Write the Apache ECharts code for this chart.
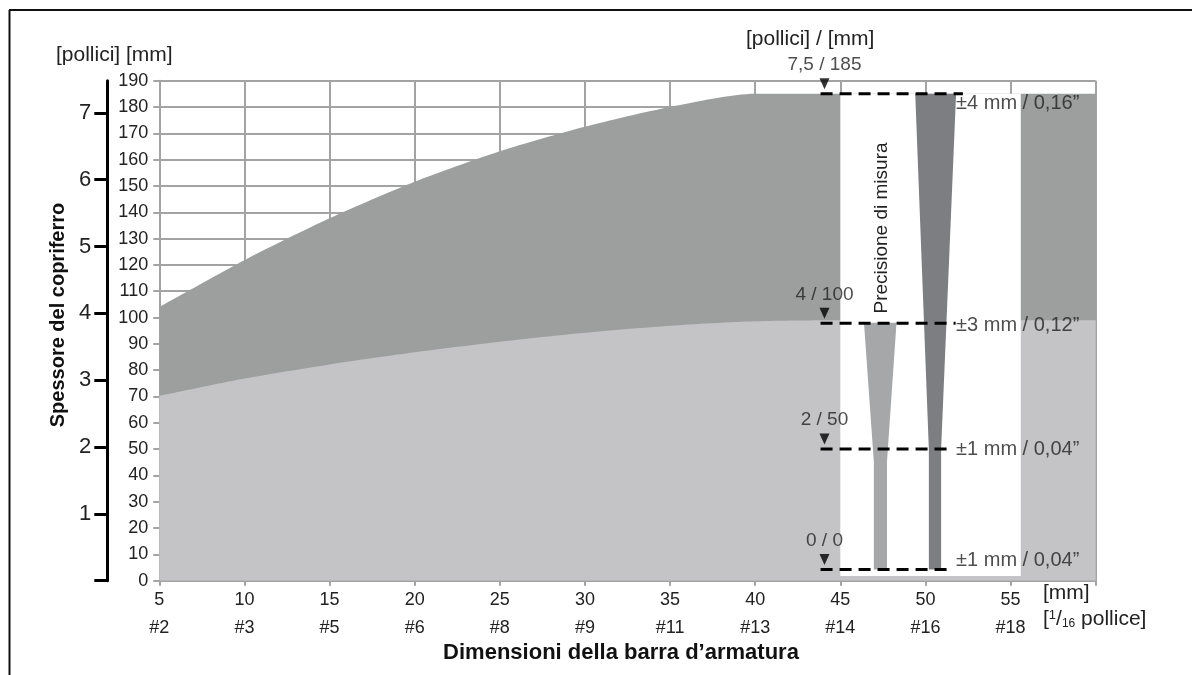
<!DOCTYPE html>
<html>
<head>
<meta charset="utf-8">
<script src="https://cdn.jsdelivr.net/npm/echarts@6/dist/echarts.min.js"></script>
<style>
  html, body { margin: 0; padding: 0; background: #fff; }
  #chart { width: 1192px; height: 675px; }
</style>
</head>
<body>
<div id="chart"></div>
<script>
// dati
var xTicks = [5, 10, 15, 20, 25, 30, 35, 40, 45, 50, 55];
var barSizes = ['#2', '#3', '#5', '#6', '#8', '#9', '#11', '#13', '#14', '#16', '#18'];
var inchTicks = [0, 1, 2, 3, 4, 5, 6, 7];
var inchLabels = [1, 2, 3, 4, 5, 6, 7];

// Campo Ampio (limite superiore)
var ampio = [[5, 104], [10, 121.8], [15, 137.7], [20, 151.6], [25, 163.2], [30, 172.5], [35, 180], [40, 185], [45, 185], [60, 185]];
// Campo Standard (limite superiore)
var standard = [[5, 70.2], [10, 76.8], [15, 82.2], [20, 86.8], [25, 90.8], [30, 94.2], [35, 96.9], [40, 98.6], [45, 99], [60, 99]];

// banda bianca "Precisione di misura"
var bandX = [45, 55.6];
var bandY = [1.8, 185];

// cunei di precisione
var wedgeStd = [[46.39, 98], [48.3, 98], [47.74, 45], [47.74, 4.3], [46.97, 4.3], [46.97, 45]];
var wedgeAmp = [[49.4, 185], [51.8, 185], [50.92, 50], [50.92, 4.3], [50.2, 4.3], [50.2, 50]];

// linee tratteggiate
var dashLevels = [185, 97.8, 50, 4.3];
var dashStart = 43.84;
var dashEnd = [52.2, 51.77, 51.3, 51.3];
var markX = 44.07;
var markLabels = ['7,5 / 185', '4 / 100', '2 / 50', '0 / 0'];
var precX = 51.8;
var precLabels = ['±4 mm / 0,16”', '±3 mm / 0,12”', '±1 mm / 0,04”', '±1 mm / 0,04”'];

var FONT = '"Liberation Sans", Arial, sans-serif';
var gridColor = '#a3a3a3';
var precOffset = [10, 2, 0, -9];

var series = [];

series.push({
  type: 'line', data: ampio, smooth: 0.25, symbol: 'none', z: 2,
  lineStyle: { width: 0 }, areaStyle: { color: '#9d9e9e', opacity: 1 }
});
series.push({
  type: 'line', data: standard, smooth: 0.25, symbol: 'none', z: 3,
  lineStyle: { width: 0 }, areaStyle: { color: '#c4c4c6', opacity: 1 }
});

// banda bianca + cunei
var shapes = [
  { pts: [[bandX[0], bandY[0]], [bandX[1], bandY[0]], [bandX[1], bandY[1]], [bandX[0], bandY[1]]], color: '#ffffff' },
  { pts: wedgeStd, color: '#a6a7a9' },
  { pts: wedgeAmp, color: '#7d7e81' }
];
series.push({
  type: 'custom', z: 4, silent: true,
  data: shapes.map(function (s, i) { return [i]; }),
  renderItem: function (params, api) {
    var s = shapes[params.dataIndex];
    return {
      type: 'polygon',
      shape: { points: s.pts.map(function (p) { return api.coord(p); }) },
      style: { fill: s.color }
    };
  }
});

dashLevels.forEach(function (lv, i) {
  series.push({
    type: 'line', z: 6, symbol: 'none', silent: true,
    data: [[dashStart, lv], [dashEnd[i], lv]],
    lineStyle: { color: '#000', width: 3, type: [12, 7] }
  });
});

series.push({
  type: 'scatter', z: 7, silent: true,
  symbol: 'triangle', symbolRotate: 180, symbolSize: [10, 11], symbolOffset: [0, -10],
  itemStyle: { color: '#000' },
  data: dashLevels.map(function (lv) { return [markX, lv]; }),
  label: {
    show: true, position: 'top', distance: 4,
    fontFamily: FONT, fontSize: 19, color: '#222',
    formatter: function (p) { return markLabels[p.dataIndex]; }
  }
});

series.push({
  type: 'scatter', z: 7, silent: true, symbolSize: 0,
  data: dashLevels.map(function (lv, i) {
    return { value: [precX, lv], label: { offset: [0, precOffset[i]] } };
  }),
  label: {
    show: true, position: 'right', distance: 0,
    fontFamily: FONT, fontSize: 20, color: '#222',
    formatter: function (p) { return precLabels[p.dataIndex]; }
  }
});

var option = {
  backgroundColor: '#ffffff',
  animation: false,
  grid: { left: 159.3, right: 96.3, top: 80.7, bottom: 94.3 },
  xAxis: {
    type: 'value', min: 5, max: 60, interval: 5,
    axisLine: { lineStyle: { color: gridColor, width: 2 } },
    axisTick: { show: true, length: 5, lineStyle: { color: gridColor, width: 2 } },
    splitLine: { show: true, lineStyle: { color: gridColor, width: 2 } },
    axisLabel: {
      margin: 5,
      formatter: function (v) {
        var i = xTicks.indexOf(v);
        if (i < 0) return '';
        return '{a|' + v + '}\n{b|' + barSizes[i] + '}';
      },
      rich: {
        a: { fontFamily: FONT, fontSize: 18, color: '#222', lineHeight: 28 },
        b: { fontFamily: FONT, fontSize: 18, color: '#222', lineHeight: 28 }
      }
    }
  },
  yAxis: [
    {
      type: 'value', min: 0, max: 190, interval: 10,
      axisLine: { show: true, lineStyle: { color: gridColor, width: 2 } },
      axisTick: { show: true, length: 6, lineStyle: { color: gridColor, width: 2 } },
      splitLine: { show: true, lineStyle: { color: gridColor, width: 2 } },
      axisLabel: { fontFamily: FONT, fontSize: 18, color: '#222', margin: 11 }
    },
    {
      type: 'value', min: 0, max: 190 / 25.4, position: 'left', offset: 52,
      axisLine: { show: true, onZero: false, lineStyle: { color: '#000', width: 3 } },
      axisTick: { show: true, length: 13, customValues: inchTicks, lineStyle: { color: '#000', width: 3 } },
      splitLine: { show: false },
      axisLabel: { fontFamily: FONT, fontSize: 22, color: '#222', margin: 16, customValues: inchLabels }
    }
  ],
  graphic: [
    { type: 'line', shape: { x1: 9, y1: 10, x2: 1192, y2: 10 }, style: { stroke: '#111', lineWidth: 2 } },
    { type: 'line', shape: { x1: 9.5, y1: 10, x2: 9.5, y2: 675 }, style: { stroke: '#111', lineWidth: 2 } },
    { type: 'text', left: 56, top: 45, style: { text: '[pollici] [mm]', font: '21px ' + FONT, fill: '#222' } },
    { type: 'text', left: 746, top: 29, style: { text: '[pollici] / [mm]', font: '21px ' + FONT, fill: '#222' } },
    {
      type: 'text', x: 58, y: 315, rotation: Math.PI / 2,
      style: { text: 'Spessore del copriferro', font: 'bold 20px ' + FONT, fill: '#111', align: 'center', verticalAlign: 'middle' }
    },
    {
      type: 'text', x: 621, y: 653,
      style: { text: 'Dimensioni della barra d’armatura', font: 'bold 22px ' + FONT, fill: '#111', align: 'center', verticalAlign: 'middle' }
    },
    { type: 'text', left: 1043, top: 583, style: { text: '[mm]', font: '21px ' + FONT, fill: '#222' } },
    {
      type: 'text', left: 1043, top: 609,
      style: {
        text: '{p|[}{s|1}{p|/}{u|16}{p| pollice]}',
        rich: {
          p: { font: '21px ' + FONT, fill: '#222' },
          s: { font: '13px ' + FONT, fill: '#222', padding: [0, 0, 8, 0] },
          u: { font: '12px ' + FONT, fill: '#222', padding: [9, 0, 0, 0] }
        }
      }
    },
    {
      type: 'text', x: 882, y: 228, rotation: Math.PI / 2, z: 100,
      style: { text: 'Precisione di misura', font: '19px ' + FONT, fill: '#222', align: 'center', verticalAlign: 'middle' }
    },
    {
      type: 'group', left: 473, top: 216, z: 100,
      children: [
        { type: 'rect', shape: { x: 0, y: 0, width: 207, height: 38 }, style: { fill: '#fff', stroke: '#000', lineWidth: 2 } },
        { type: 'text', x: 103.5, y: 19, style: { text: 'Campo Ampio', font: '20px ' + FONT, fill: '#111', align: 'center', verticalAlign: 'middle' } }
      ]
    },
    {
      type: 'group', left: 474, top: 396, z: 100,
      children: [
        { type: 'rect', shape: { x: 0, y: 0, width: 207, height: 40 }, style: { fill: '#fff', stroke: '#000', lineWidth: 2 } },
        { type: 'text', x: 103.5, y: 20, style: { text: 'Campo Standard', font: '20px ' + FONT, fill: '#111', align: 'center', verticalAlign: 'middle' } }
      ]
    }
  ],
  series: series
};

var myChart = echarts.init(document.getElementById('chart'));
myChart.setOption(option);
</script>
</body>
</html>
